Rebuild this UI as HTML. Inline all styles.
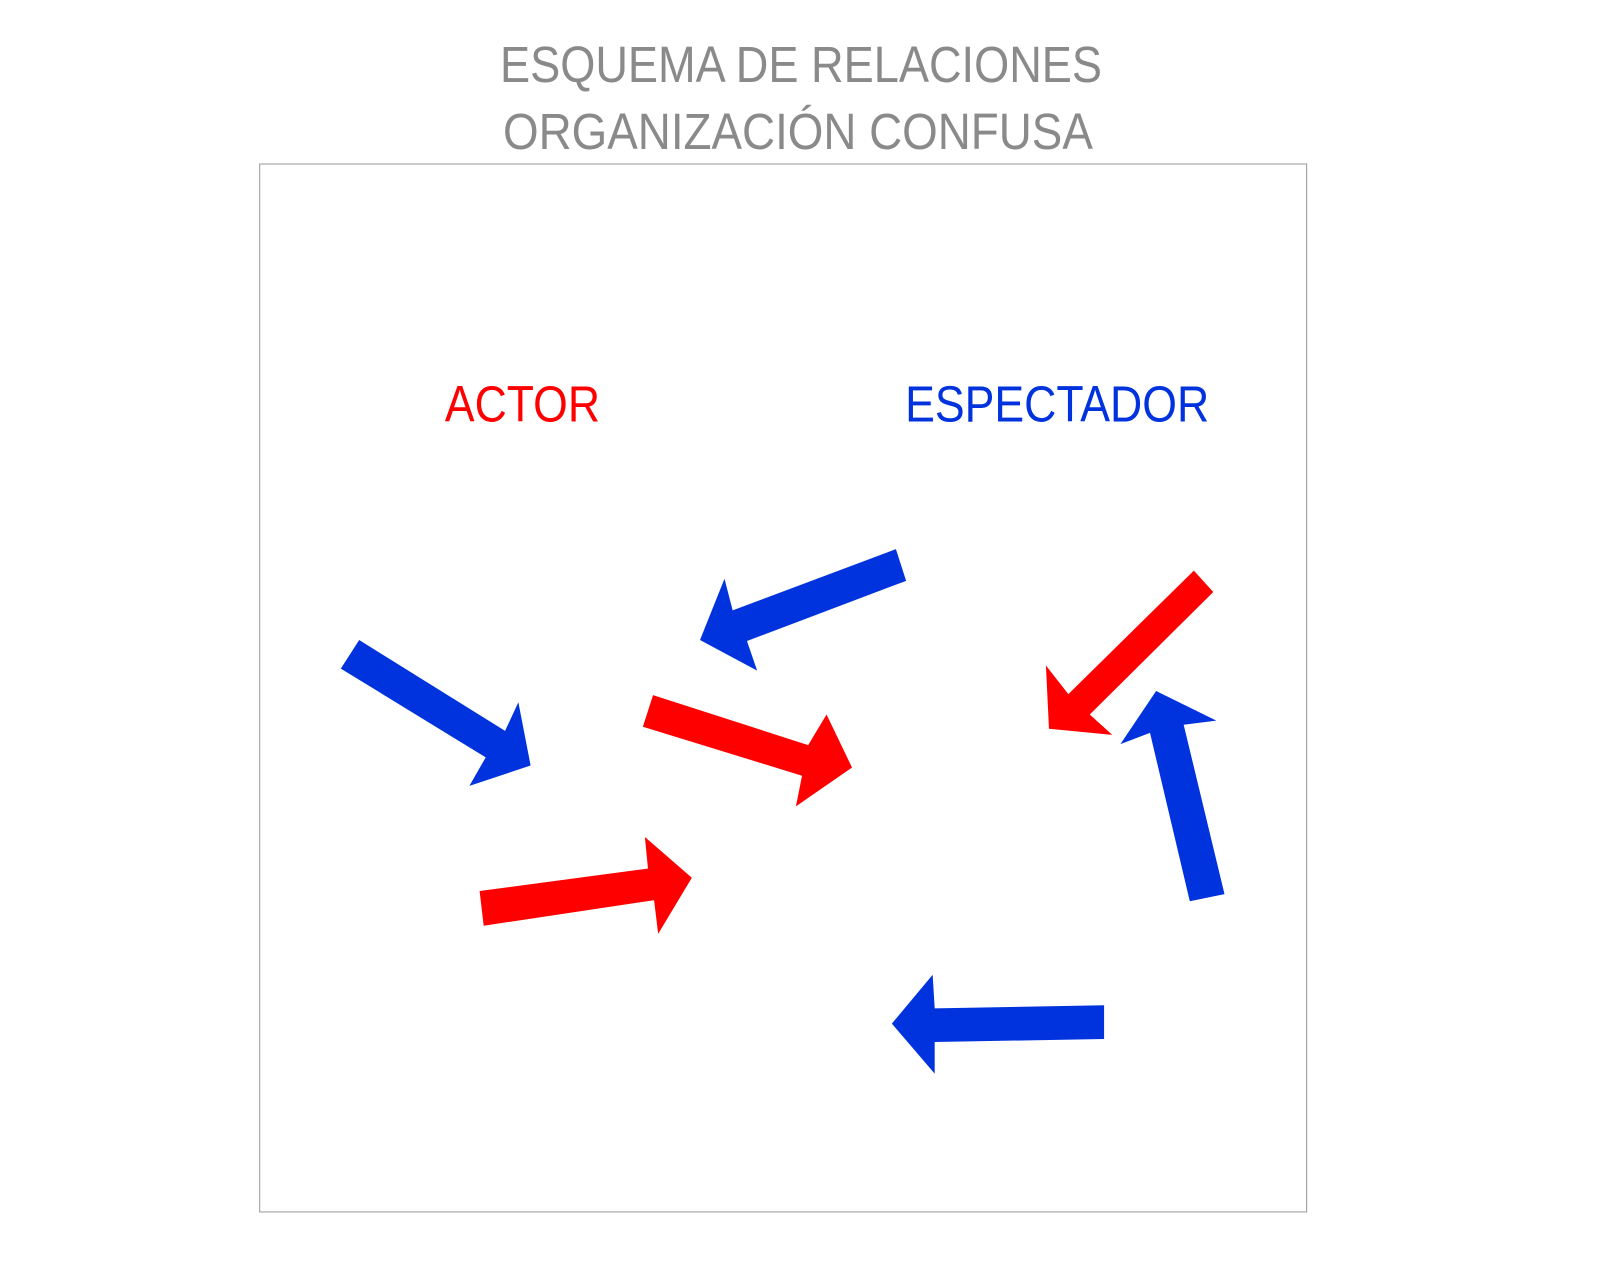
<!DOCTYPE html>
<html><head><meta charset="utf-8"><style>html,body{margin:0;padding:0;background:#fff}svg{display:block}</style></head>
<body>
<svg width="1600" height="1280" viewBox="0 0 1568 1254" xmlns="http://www.w3.org/2000/svg">
<rect width="1568" height="1254" fill="#fff"/>
<g font-family="Liberation Sans, sans-serif" text-anchor="middle" fill="#8a8a8a" font-size="50" style="font-weight:300">
<text x="785" y="80" textLength="590" lengthAdjust="spacingAndGlyphs">ESQUEMA DE RELACIONES</text>
<text x="782" y="146" textLength="578" lengthAdjust="spacingAndGlyphs">ORGANIZACIÓN CONFUSA</text>
</g>
<rect x="254.5" y="160.5" width="1026" height="1027" fill="none" stroke="#999" stroke-width="1"/>
<text x="512" y="413" font-family="Liberation Sans, sans-serif" font-size="50" fill="#ff0000" text-anchor="middle" textLength="152" lengthAdjust="spacingAndGlyphs">ACTOR</text>
<text x="1036" y="413" font-family="Liberation Sans, sans-serif" font-size="50" fill="#0033dd" text-anchor="middle" textLength="298" lengthAdjust="spacingAndGlyphs">ESPECTADOR</text>
<g fill="#0033dd">
<polygon points="352,627 495,716 508,688 520,750 460,770 476,742 334,655"/>
<polygon points="878,538 718,598 710,567 686,627 742,657 732,628 888,569"/>
<polygon points="1166,883 1127,718 1098,729 1133,677 1192,706 1160,710 1200,876"/>
<polygon points="1082,985 916,988 914,955 874,1003 916,1052 916,1021 1082,1018"/>
</g>
<g fill="#ff0000">
<polygon points="640,681 792,730 810,700 835,752 780,790 786,760 630,712"/>
<polygon points="470,873 635,851 632,820 678,860 645,915 641,882 474,907"/>
<polygon points="1170,559 1189,580 1068,700 1090,720 1028,714 1025,652 1047,680"/>
</g>
</svg>
</body></html>
